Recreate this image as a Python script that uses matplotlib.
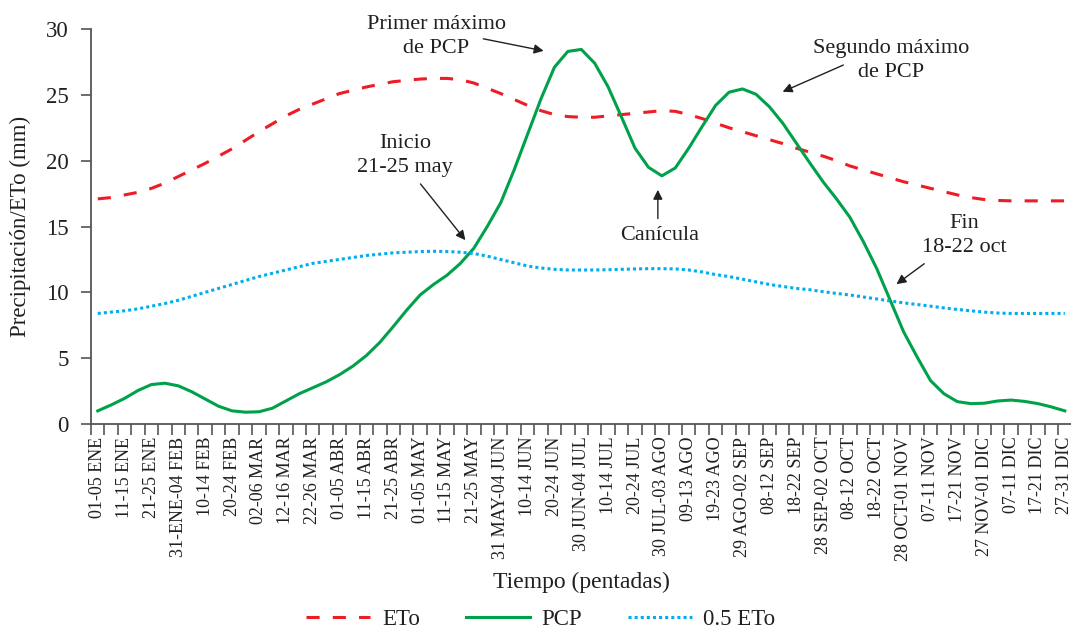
import matplotlib
matplotlib.use("Agg")
import matplotlib.pyplot as plt
import numpy as np

# pentadas (73), etiqueta cada dos
pentadas = [
    "01-05 ENE", "06-10 ENE", "11-15 ENE", "16-20 ENE", "21-25 ENE", "26-30 ENE",
    "31-ENE-04 FEB", "05-09 FEB", "10-14 FEB", "15-19 FEB", "20-24 FEB", "25 FEB-01 MAR",
    "02-06 MAR", "07-11 MAR", "12-16 MAR", "17-21 MAR", "22-26 MAR", "27-31 MAR",
    "01-05 ABR", "06-10 ABR", "11-15 ABR", "16-20 ABR", "21-25 ABR", "26-30 ABR",
    "01-05 MAY", "06-10 MAY", "11-15 MAY", "16-20 MAY", "21-25 MAY", "26-30 MAY",
    "31 MAY-04 JUN", "05-09 JUN", "10-14 JUN", "15-19 JUN", "20-24 JUN", "25-29 JUN",
    "30 JUN-04 JUL", "05-09 JUL", "10-14 JUL", "15-19 JUL", "20-24 JUL", "25-29 JUL",
    "30 JUL-03 AGO", "04-08 AGO", "09-13 AGO", "14-18 AGO", "19-23 AGO", "24-28 AGO",
    "29 AGO-02 SEP", "03-07 SEP", "08-12 SEP", "13-17 SEP", "18-22 SEP", "23-27 SEP",
    "28 SEP-02 OCT", "03-07 OCT", "08-12 OCT", "13-17 OCT", "18-22 OCT", "23-27 OCT",
    "28 OCT-01 NOV", "02-06 NOV", "07-11 NOV", "12-16 NOV", "17-21 NOV", "22-26 NOV",
    "27 NOV-01 DIC", "02-06 DIC", "07-11 DIC", "12-16 DIC", "17-21 DIC", "22-26 DIC",
    "27-31 DIC",
]

eto = [
    17.1, 17.2, 17.4, 17.6, 17.9, 18.3, 18.8, 19.3, 19.8, 20.35,
    20.9, 21.55, 22.2, 22.8, 23.4, 23.9, 24.3, 24.7, 25.1, 25.35,
    25.6, 25.8, 26.0, 26.1, 26.2, 26.25, 26.25, 26.15, 25.9, 25.5,
    25.1, 24.65, 24.2, 23.8, 23.5, 23.35, 23.3, 23.3, 23.4, 23.5,
    23.6, 23.7, 23.8, 23.75, 23.5, 23.2, 22.85, 22.5, 22.2, 21.9,
    21.6, 21.3, 20.95, 20.65, 20.35, 20.0, 19.6, 19.3, 19.0, 18.7,
    18.4, 18.15, 17.9, 17.65, 17.4, 17.2, 17.05, 16.98, 16.95, 16.95,
    16.95, 16.95, 16.95,
]

pcp = [
    1.0, 1.45, 1.95, 2.55, 3.0, 3.1, 2.9, 2.45, 1.9, 1.35,
    1.0, 0.9, 0.93, 1.2, 1.75, 2.3, 2.75, 3.2, 3.75, 4.4,
    5.2, 6.2, 7.4, 8.65, 9.8, 10.6, 11.3, 12.2, 13.35, 15.0,
    16.8, 19.3, 22.0, 24.7, 27.1, 28.3, 28.45, 27.4, 25.6, 23.3,
    20.95, 19.5, 18.85, 19.45, 20.95, 22.6, 24.2, 25.2, 25.45, 25.05,
    24.1, 22.85, 21.35, 19.85, 18.4, 17.1, 15.7, 13.85, 11.8, 9.4,
    7.0, 5.1, 3.3, 2.3, 1.7, 1.55, 1.58, 1.75, 1.82, 1.72,
    1.55, 1.3, 1.0,
]

eto_half = [
    8.4, 8.5, 8.6, 8.75, 8.95, 9.15, 9.4, 9.7, 10.0, 10.3,
    10.6, 10.9, 11.2, 11.45, 11.7, 11.95, 12.2, 12.35, 12.5, 12.65,
    12.8, 12.9, 13.0, 13.05, 13.1, 13.12, 13.1, 13.05, 12.95, 12.75,
    12.5, 12.25, 12.0, 11.85, 11.75, 11.7, 11.7, 11.7, 11.72, 11.75,
    11.78, 11.8, 11.8, 11.78, 11.7, 11.55, 11.35, 11.2, 11.0, 10.8,
    10.6, 10.45, 10.3, 10.2, 10.05, 9.92, 9.8, 9.65, 9.5, 9.35,
    9.2, 9.08, 8.95, 8.82, 8.7, 8.6, 8.5, 8.43, 8.4, 8.4,
    8.4, 8.4, 8.4,
]

RED = "#EE1C25"
GREEN = "#00A14B"
BLUE = "#00AEEF"
TXT = "#231F20"
AXC = "#555555"

plt.rcParams["font.family"] = ["Liberation Serif", "DejaVu Serif"]
plt.rcParams["text.color"] = TXT

fig = plt.figure(figsize=(10.71, 6.31), dpi=100)
ax = fig.add_axes([0.085, 0.328, 0.9155, 0.626])

x = np.arange(len(pentadas))
ax.plot(x, eto, color=RED, lw=2.2, dashes=(4.3, 4.3), label="ETo")
ax.plot(x, pcp, color=GREEN, lw=2.2, label="PCP")
ax.plot(x, eto_half, color=BLUE, lw=2.2, dashes=(1.0, 1.0), label="0.5 ETo")

ax.set_xlim(-0.5, len(pentadas) - 0.5)
ax.set_ylim(0, 30)
ax.set_yticks(np.arange(0, 31, 5))

ax.set_xticks(x[::2])
ax.set_xticklabels(pentadas[::2], rotation=90, fontsize=13, color=TXT)
ax.set_xticks(np.arange(-0.5, len(pentadas), 1.0), minor=True)
ax.tick_params(axis="x", which="major", length=0, pad=9)
ax.tick_params(axis="x", which="minor", length=8, width=1.2, color=AXC, direction="out")
ax.tick_params(axis="y", length=7, width=1.2, color=AXC, labelsize=16.5,
               labelcolor=TXT, pad=9)

for s in ("top", "right"):
    ax.spines[s].set_visible(False)
for s in ("left", "bottom"):
    ax.spines[s].set_color(AXC)
    ax.spines[s].set_linewidth(1.3)

ax.set_ylabel("Precipitación/ETo (mm)", fontsize=16.5, color=TXT, labelpad=11)
ax.set_xlabel("Tiempo (pentadas)", fontsize=17, color=TXT, labelpad=8)

# anotaciones
tfs = 16
arrow = dict(arrowstyle="-|>", color=TXT, lw=1.0, mutation_scale=14)
ax.text(25.2, 29.4, "Primer máximo\nde PCP", ha="center", va="center",
        fontsize=tfs, linespacing=1.35, clip_on=False)
ax.annotate("", xy=(33.4, 28.3), xytext=(28.5, 29.3), arrowprops=arrow,
            annotation_clip=False)

ax.text(22.9, 20.4, "Inicio\n21-25 may", ha="center", va="center",
        fontsize=tfs, linespacing=1.35)
ax.annotate("", xy=(27.5, 13.8), xytext=(23.9, 18.4), arrowprops=arrow)

ax.text(41.85, 14.3, "Canícula", ha="center", va="center", fontsize=tfs)
ax.annotate("", xy=(41.7, 18.0), xytext=(41.7, 15.4), arrowprops=arrow)

ax.text(59.1, 27.6, "Segundo máximo\nde PCP", ha="center", va="center",
        fontsize=tfs, linespacing=1.35)
ax.annotate("", xy=(50.8, 25.15), xytext=(55.7, 27.35), arrowprops=arrow)

ax.text(64.5, 14.35, "Fin\n18-22 oct", ha="center", va="center",
        fontsize=tfs, linespacing=1.35)
ax.annotate("", xy=(59.3, 10.5), xytext=(61.7, 12.3), arrowprops=arrow)

fig.legend(loc="center", bbox_to_anchor=(0.505, 0.018), ncol=3, frameon=False,
           fontsize=16.5, handlelength=2.8, columnspacing=2.0, handletextpad=0.5)

fig.savefig("out.png", dpi=100)
